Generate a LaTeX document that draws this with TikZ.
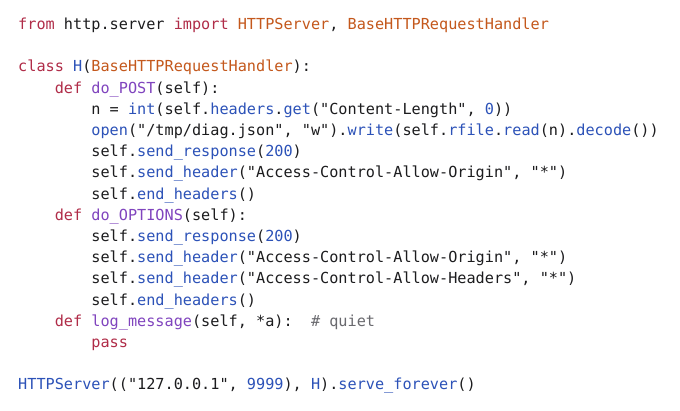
\documentclass[tikz,border=0pt]{standalone}
\usepackage{fontspec}
\setmonofont{DejaVu Sans Mono}
\usepackage{tikz}
\definecolor{kwred}{RGB}{176,44,72}
\definecolor{clorange}{RGB}{196,88,28}
\definecolor{fnblue}{RGB}{44,82,184}
\definecolor{defpurple}{RGB}{128,68,190}
\definecolor{txt}{RGB}{28,28,30}
\definecolor{cmgray}{RGB}{105,105,110}
\newcommand{\kw}[1]{\textcolor{kwred}{#1}}
\newcommand{\cl}[1]{\textcolor{clorange}{#1}}
\newcommand{\fn}[1]{\textcolor{fnblue}{#1}}
\newcommand{\dn}[1]{\textcolor{defpurple}{#1}}
\newcommand{\cm}[1]{\textcolor{cmgray}{#1}}

\begin{document}
\begin{tikzpicture}[x=1pt,y=1pt,yscale=-1,xscale=1,
  codeline/.style={anchor=base west,inner sep=0pt,text=txt,font=\ttfamily\fontsize{15.2}{18}\selectfont}]
        \fill[white] (0,0) rectangle (680,410);

        % Text Node
        \node[codeline] (l1) at (18,29.5) {\kw{from} http.server \kw{import} \cl{HTTPServer}, \cl{BaseHTTPRequestHandler}};
        % Text Node
        \node[codeline] (l3) at (18,71.9) {\kw{class} \fn{H}(\cl{BaseHTTPRequestHandler}):};
        % Text Node
        \node[codeline] (l4) at (54.6,93.1) {\kw{def} \dn{do\_POST}(self):};
        % Text Node
        \node[codeline] (l5) at (91.2,114.3) {n = \fn{int}(self.\fn{headers}.\fn{get}("Content-Length", \fn{0}))};
        % Text Node
        \node[codeline] (l6) at (91.2,135.5) {\fn{open}("/tmp/diag.json", "w").\fn{write}(self.\fn{rfile}.\fn{read}(n).\fn{decode}())};
        % Text Node
        \node[codeline] (l7) at (91.2,156.7) {self.\fn{send\_response}(\fn{200})};
        % Text Node
        \node[codeline] (l8) at (91.2,177.9) {self.\fn{send\_header}("Access-Control-Allow-Origin", "*")};
        % Text Node
        \node[codeline] (l9) at (91.2,199.1) {self.\fn{end\_headers}()};
        % Text Node
        \node[codeline] (l10) at (54.6,220.3) {\kw{def} \dn{do\_OPTIONS}(self):};
        % Text Node
        \node[codeline] (l11) at (91.2,241.5) {self.\fn{send\_response}(\fn{200})};
        % Text Node
        \node[codeline] (l12) at (91.2,262.7) {self.\fn{send\_header}("Access-Control-Allow-Origin", "*")};
        % Text Node
        \node[codeline] (l13) at (91.2,283.9) {self.\fn{send\_header}("Access-Control-Allow-Headers", "*")};
        % Text Node
        \node[codeline] (l14) at (91.2,305.1) {self.\fn{end\_headers}()};
        % Text Node
        \node[codeline] (l15) at (54.6,326.3) {\kw{def} \dn{log\_message}(self, *a):\ \ \cm{\# quiet}};
        % Text Node
        \node[codeline] (l16) at (91.2,347.5) {\kw{pass}};
        % Text Node
        \node[codeline] (l18) at (18,389.9) {\fn{HTTPServer}(("127.0.0.1", \fn{9999}), \fn{H}).\fn{serve\_forever}()};

\end{tikzpicture}
\end{document}
